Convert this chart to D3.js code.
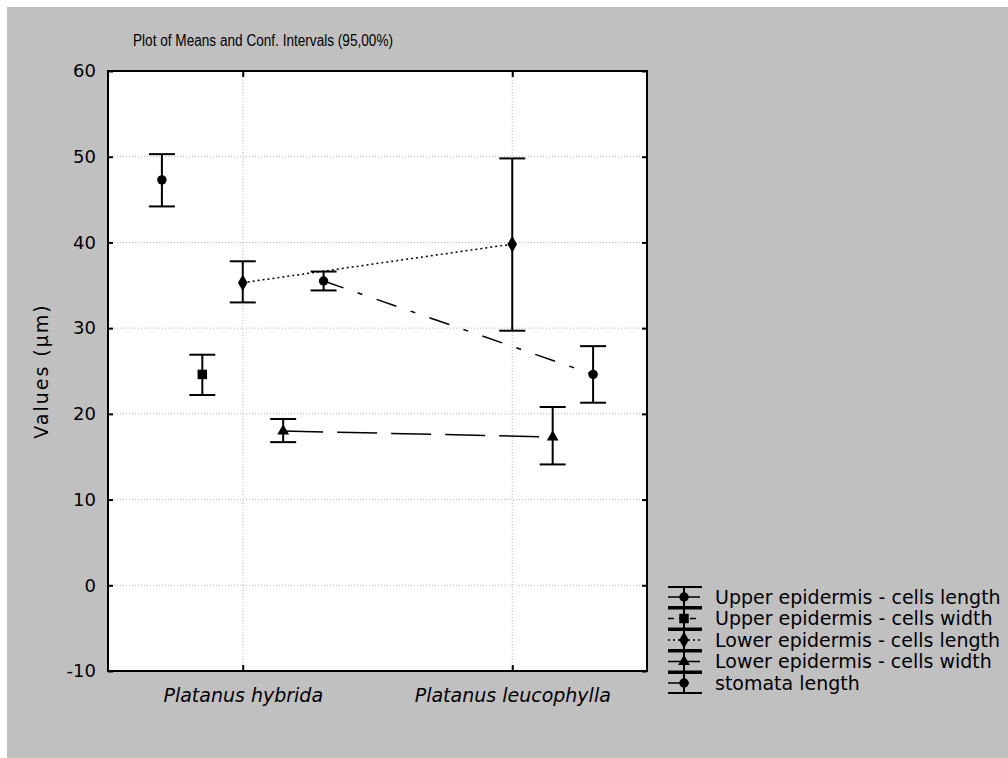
<!DOCTYPE html>
<html>
<head>
<meta charset="utf-8">
<script src="https://cdn.jsdelivr.net/npm/d3@7"></script>
<style>
  html, body { margin: 0; padding: 0; background: #fff; }
  svg { display: block; font-family: "DejaVu Sans", Arial, sans-serif; }
</style>
</head>
<body>
<svg id="chart" width="1008" height="758"></svg>
<script>
// categories and series (mean, lower CI, upper CI); null = no data
const categories = ["Platanus hybrida", "Platanus leucophylla"];
const seriesNames = [
  "Upper epidermis - cells length",
  "Upper epidermis - cells width",
  "Lower epidermis - cells length",
  "Lower epidermis - cells width",
  "stomata length"
];
const means = [
  [47.3, null],
  [24.6, null],
  [35.3, 39.8],
  [18.0, 17.3],
  [35.5, 24.6]
];
const lowerCI = [
  [44.2, null],
  [22.2, null],
  [33.0, 29.7],
  [16.7, 14.1],
  [34.4, 21.3]
];
const upperCI = [
  [50.3, null],
  [26.9, null],
  [37.8, 49.8],
  [19.4, 20.8],
  [36.6, 27.9]
];
const yTicks = [60, 50, 40, 30, 20, 10, 0, -10];
const title = "Plot of Means and Conf. Intervals (95,00%)";
const yLabel = "Values (\u00b5m)";

const svg = d3.select("#chart");

// gray panel
svg.append("rect")
  .attr("x", 7).attr("y", 7)
  .attr("width", 1001).attr("height", 751)
  .attr("fill", "#c0c0c0");

const plot = { left: 108, right: 647, top: 71, bottom: 671 };

const x = d3.scaleLinear().domain([-0.5, 1.5]).range([plot.left, plot.right]);
const y = d3.scaleLinear().domain([-10, 60]).range([plot.bottom, plot.top]);
const offset = i => (i - 2) * 0.15;

// plot background
svg.append("rect")
  .attr("x", plot.left).attr("y", plot.top)
  .attr("width", plot.right - plot.left).attr("height", plot.bottom - plot.top)
  .attr("fill", "#fff");

// grid
svg.append("g").selectAll("line")
  .data(yTicks.filter(d => d > -10 && d < 60))
  .enter().append("line")
  .attr("x1", plot.left).attr("x2", plot.right)
  .attr("y1", d => y(d)).attr("y2", d => y(d))
  .attr("stroke", "#b8b8b8").attr("stroke-dasharray", "1,2");
svg.append("g").selectAll("line")
  .data(categories)
  .enter().append("line")
  .attr("x1", (d, i) => x(i)).attr("x2", (d, i) => x(i))
  .attr("y1", plot.top).attr("y2", plot.bottom)
  .attr("stroke", "#b8b8b8").attr("stroke-dasharray", "1,2");

// axes: ticks inside the frame
const yAxisL = d3.axisLeft(y).tickValues(yTicks).tickSize(-5).tickPadding(12).tickFormat(d => String(d));
const yAxisR = d3.axisRight(y).tickValues(yTicks).tickSize(-5).tickFormat("");
const xAxisB = d3.axisBottom(x).tickValues([0, 1]).tickSize(-6).tickPadding(18).tickFormat(i => categories[i]);
const xAxisT = d3.axisTop(x).tickValues([0, 1]).tickSize(-6).tickFormat("");

function styleAxis(g) {
  g.select(".domain").remove();
  g.selectAll(".tick line").attr("stroke", "#000").attr("stroke-width", 2);
  g.selectAll("text").attr("fill", "#000").attr("font-size", 18)
    .attr("font-family", "'DejaVu Sans', Arial, sans-serif");
}
svg.append("g").attr("transform", `translate(${plot.left},0)`).call(yAxisL).call(styleAxis);
svg.append("g").attr("transform", `translate(${plot.right},0)`).call(yAxisR).call(styleAxis);
svg.append("g").attr("transform", `translate(0,${plot.bottom})`).call(xAxisB).call(styleAxis)
  .selectAll("text").attr("font-style", "italic").attr("font-size", 19);
svg.append("g").attr("transform", `translate(0,${plot.top})`).call(xAxisT).call(styleAxis);

// frame
svg.append("rect")
  .attr("x", plot.left).attr("y", plot.top)
  .attr("width", plot.right - plot.left).attr("height", plot.bottom - plot.top)
  .attr("fill", "none").attr("stroke", "#000").attr("stroke-width", 2);

// line styles and markers per series
const dashes = [null, "6,5", "2,3", "40,14", "21,15,5,15"];
const symbols = [d3.symbolCircle, d3.symbolSquare, d3.symbolDiamond, d3.symbolTriangle, d3.symbolCircle];
const symSizes = [70, 90, 80, 60, 70];
const capW = 13;

const gData = svg.append("g");
seriesNames.forEach((name, s) => {
  const pts = means[s].map((m, c) => ({ c, m, lo: lowerCI[s][c], hi: upperCI[s][c] }))
    .filter(p => p.m !== null);

  if (pts.length > 1) {
    gData.append("path")
      .datum(pts)
      .attr("d", d3.line().x(p => x(p.c + offset(s))).y(p => y(p.m)))
      .attr("fill", "none").attr("stroke", "#000").attr("stroke-width", 1.5)
      .attr("stroke-dasharray", dashes[s]);
  }

  const g = gData.append("g").selectAll("g").data(pts).enter().append("g");
  g.append("line")
    .attr("x1", p => x(p.c + offset(s))).attr("x2", p => x(p.c + offset(s)))
    .attr("y1", p => y(p.lo)).attr("y2", p => y(p.hi))
    .attr("stroke", "#000").attr("stroke-width", 2);
  ["lo", "hi"].forEach(k => {
    g.append("line")
      .attr("x1", p => x(p.c + offset(s)) - capW).attr("x2", p => x(p.c + offset(s)) + capW)
      .attr("y1", p => y(p[k])).attr("y2", p => y(p[k]))
      .attr("stroke", "#000").attr("stroke-width", 2);
  });
  g.append("path")
    .attr("d", d3.symbol().type(symbols[s]).size(symSizes[s]))
    .attr("transform", p => `translate(${x(p.c + offset(s))},${y(p.m)})`)
    .attr("fill", "#000");
});

// title and y label
svg.append("text")
  .attr("x", 133).attr("y", 46)
  .attr("font-family", "Arial, 'Liberation Sans', sans-serif")
  .attr("font-size", 16).attr("fill", "#000")
  .attr("textLength", 260).attr("lengthAdjust", "spacingAndGlyphs")
  .text(title);
svg.append("text")
  .attr("transform", `translate(48,${(plot.top + plot.bottom) / 2}) rotate(-90)`)
  .attr("text-anchor", "middle")
  .attr("font-size", 19).attr("letter-spacing", 2).attr("fill", "#000")
  .text(yLabel);

// legend
const legY = d3.scalePoint().domain(seriesNames).range([597, 683]);
const leg = svg.append("g").selectAll("g").data(seriesNames).enter().append("g")
  .attr("transform", d => `translate(684,${legY(d)})`);
leg.append("line")
  .attr("x1", 0).attr("x2", 0).attr("y1", -10).attr("y2", 10)
  .attr("stroke", "#000").attr("stroke-width", 2);
leg.append("line").attr("x1", -16).attr("x2", 18).attr("y1", -10).attr("y2", -10)
  .attr("stroke", "#000").attr("stroke-width", 2);
leg.append("line").attr("x1", -16).attr("x2", 18).attr("y1", 10).attr("y2", 10)
  .attr("stroke", "#000").attr("stroke-width", 2);
leg.append("line")
  .attr("x1", -16).attr("x2", 16).attr("y1", 0).attr("y2", 0)
  .attr("stroke", "#000").attr("stroke-width", 1.5)
  .attr("stroke-dasharray", (d, i) => dashes[i]);
leg.append("path")
  .attr("d", (d, i) => d3.symbol().type(symbols[i]).size(symSizes[i])())
  .attr("fill", "#000");
leg.append("text")
  .attr("x", 31).attr("y", 0).attr("dy", "0.35em")
  .attr("font-size", 19).attr("fill", "#000")
  .text(d => d);
</script>
</body>
</html>
